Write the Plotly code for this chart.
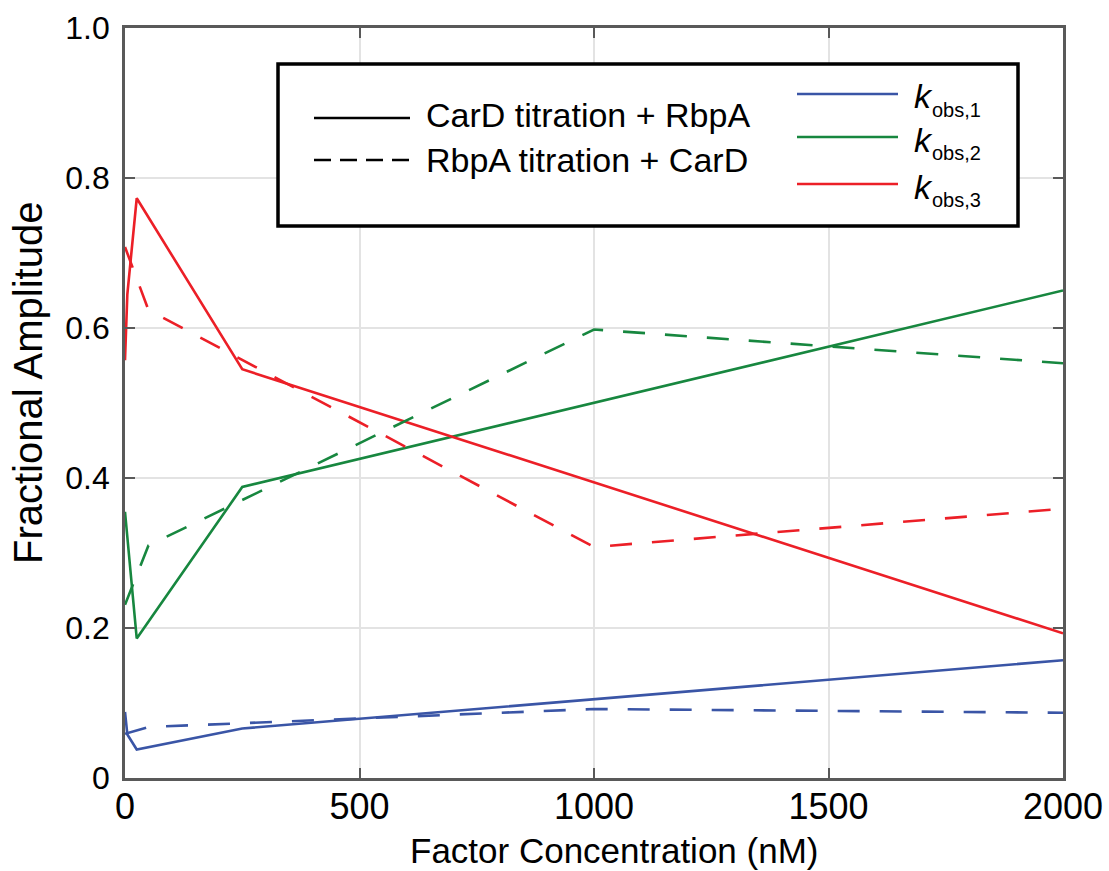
import plotly.graph_objects as go

# ---- data ----
card_x = [0, 5, 25, 250, 2000]               # CarD titration + RbpA (solid)
card_k1 = [0.088, 0.058, 0.038, 0.066, 0.157]
card_k2 = [0.355, 0.320, 0.186, 0.388, 0.650]
card_k3 = [0.557, 0.645, 0.773, 0.545, 0.193]

rbpa_x = [0, 50, 1000, 2000]                 # RbpA titration + CarD (dashed)
rbpa_k1 = [0.059, 0.068, 0.092, 0.087]
rbpa_k2 = [0.231, 0.310, 0.598, 0.553]
rbpa_k3 = [0.708, 0.624, 0.308, 0.359]

x_ticks = [0, 500, 1000, 1500, 2000]
y_ticks = [0, 0.2, 0.4, 0.6, 0.8, 1.0]
y_tick_text = ["0", "0.2", "0.4", "0.6", "0.8", "1.0"]

legend_series = ["CarD titration + RbpA", "RbpA titration + CarD"]
legend_rates = ["obs,1", "obs,2", "obs,3"]

BLUE = "#3a55a6"
GREEN = "#17873f"
RED = "#ec1f27"
FONT = "Liberation Sans, Arial, Helvetica, sans-serif"

W, H = 1109, 871
L, R, T, B = 125, 46, 28, 93
PW, PH = W - L - R, H - T - B


def px(xp):
    return (xp - L) / PW


def py(yp):
    return (H - B - yp) / PH


fig = go.Figure()
for ys, c in [(card_k1, BLUE), (card_k2, GREEN), (card_k3, RED)]:
    fig.add_trace(go.Scatter(x=card_x, y=ys, mode="lines",
                             line=dict(color=c, width=2.6), showlegend=False,
                             hoverinfo="skip"))
for ys, c in [(rbpa_k1, BLUE), (rbpa_k2, GREEN), (rbpa_k3, RED)]:
    fig.add_trace(go.Scatter(x=rbpa_x, y=ys, mode="lines",
                             line=dict(color=c, width=2.6, dash="22px,20px"),
                             showlegend=False, hoverinfo="skip"))

axis_common = dict(
    showline=True, linecolor="#595959", linewidth=2.7, mirror="ticks",
    ticks="inside", ticklen=10, tickwidth=2, tickcolor="#595959",
    showgrid=True, gridcolor="#e3e3e3", gridwidth=2, zeroline=False,
)

fig.update_layout(
    width=W, height=H,
    margin=dict(l=L, r=R, t=T, b=B, autoexpand=False),
    paper_bgcolor="white", plot_bgcolor="white",
    showlegend=False,
    xaxis=dict(range=[0, 2000], tickvals=x_ticks,
               tickfont=dict(family=FONT, size=36, color="black"),
               ticklabelstandoff=-5,
               **axis_common),
    yaxis=dict(range=[0, 1], tickvals=y_ticks, ticktext=y_tick_text,
               tickfont=dict(family=FONT, size=32, color="black"),
               ticklabelstandoff=6,
               **axis_common),
)

# axis titles
fig.add_annotation(text="Factor Concentration (nM)", xref="paper", yref="paper",
                   x=px(614), y=py(850), xanchor="center", yanchor="middle",
                   showarrow=False, font=dict(family=FONT, size=35, color="black"))
fig.add_annotation(text="Fractional Amplitude", xref="paper", yref="paper",
                   x=px(28), y=py(383), xanchor="center", yanchor="middle",
                   textangle=-90, showarrow=False,
                   font=dict(family=FONT, size=40, color="black"))

# custom legend box
fig.add_shape(type="rect", xref="paper", yref="paper",
              x0=px(278), x1=px(1018), y0=py(64), y1=py(226),
              line=dict(color="black", width=3.5), fillcolor="white", layer="above")
# style samples
fig.add_shape(type="line", xref="paper", yref="paper", x0=px(314), x1=px(410),
              y0=py(118), y1=py(118), line=dict(color="black", width=2.6), layer="above")
fig.add_shape(type="line", xref="paper", yref="paper", x0=px(314), x1=px(410),
              y0=py(160), y1=py(160), line=dict(color="black", width=2.6, dash="17px,9px"),
              layer="above")
for txt, yy in zip(legend_series, [115, 160]):
    fig.add_annotation(text=txt, xref="paper", yref="paper", x=px(424), y=py(yy),
                       xanchor="left", yanchor="middle", showarrow=False,
                       font=dict(family=FONT, size=34, color="black"))
# colour samples
for c, ly, ky, sy, sub in zip([BLUE, GREEN, RED], [94, 137, 184], [96, 140, 187],
                              [110, 153, 200], legend_rates):
    fig.add_shape(type="line", xref="paper", yref="paper", x0=px(797), x1=px(898),
                  y0=py(ly), y1=py(ly), line=dict(color=c, width=2.6), layer="above")
    fig.add_annotation(text="<i>k</i>", xref="paper", yref="paper", x=px(912), y=py(ky),
                       xanchor="left", yanchor="middle", showarrow=False,
                       font=dict(family=FONT, size=34, color="black"))
    fig.add_annotation(text=sub, xref="paper", yref="paper", x=px(930), y=py(sy),
                       xanchor="left", yanchor="middle", showarrow=False,
                       font=dict(family=FONT, size=20, color="black"))

fig.write_html("out.html", config={"displayModeBar": False},
               post_script="document.body.style.margin='0';")
